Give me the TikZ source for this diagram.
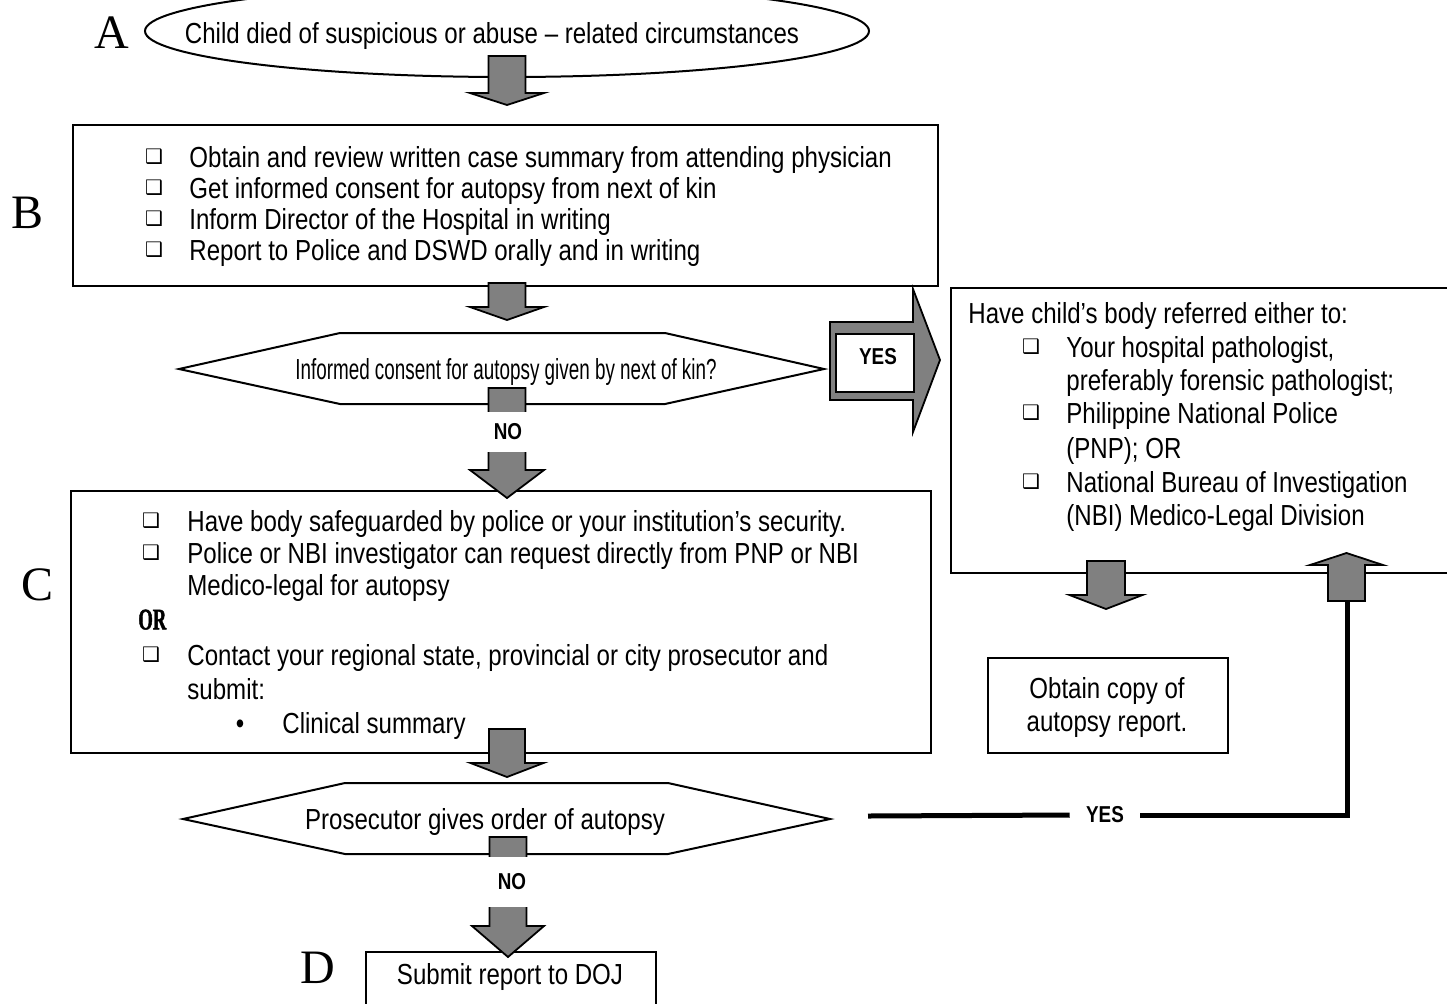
\documentclass[tikz,border=0pt]{standalone}
\usepackage{fontspec}
\setmainfont{Liberation Sans}
\newfontfamily\bodyfont{Liberation Sans}[FakeStretch=0.83]
\newfontfamily\tightfont{Liberation Sans}[FakeStretch=0.65]
\newfontfamily\labelfont{Liberation Sans}[FakeStretch=0.82]
\newfontfamily\letterfont{Liberation Serif}
\newfontfamily\orfont{Liberation Serif}[FakeStretch=0.62, FakeBold=1.5]
\newfontfamily\symfont{DejaVu Sans}
\usetikzlibrary{shapes.geometric,positioning}

% vertical block arrow: centre x, shaft start, head base, tip, half shaft, half head
\newcommand{\vblock}[6]{%
  \draw[blockarr] (#1-#5,#2) -- (#1+#5,#2) -- (#1+#5,#3) -- (#1+#6,#3) -- (#1,#4)
    -- (#1-#6,#3) -- (#1-#5,#3) -- cycle;}

\begin{document}
\begin{tikzpicture}[x=0.5pt, y=-0.5pt,
    box/.style={draw, line width=1pt, inner sep=0pt},
    blockarr/.style={draw, fill=gray, line width=0.9pt, line join=miter},
    txt/.style={anchor=west, inner sep=0pt, text height=10.4pt, text depth=0pt,
      font=\bodyfont\fontsize{14.5}{17}\selectfont},
    sq/.style={inner sep=0pt, font=\symfont\fontsize{10}{10}\selectfont},
    letter/.style={inner sep=0pt, font=\letterfont\fontsize{24}{24}\selectfont},
    yn/.style={inner sep=0pt, font=\labelfont\bfseries\fontsize{11.5}{13}\selectfont},
    heavy/.style={line width=2.5pt}]
    \useasboundingbox (0,0) rectangle (1447,1003);

    % A
    \node[letter] (la) at (112,33) {A};
    \node[draw, line width=1pt, ellipse, minimum width=362pt, minimum height=46pt, inner sep=0pt] (start) at (507,31) {};
    \node[txt, anchor=center] (starttxt) at (492,33) {Child died of suspicious or abuse – related circumstances};

    % B
    \node[letter] (lb) at (28,213) {B};
    \node[box, anchor=north west, minimum width=432.5pt, minimum height=80.5pt] (boxb) at (72,124) {};
    \foreach \yy/\itemtext [count=\i] in {157/{Obtain and review written case summary from attending physician},
        188/{Get informed consent for autopsy from next of kin},
        219/{Inform Director of the Hospital in writing},
        250/{Report to Police and DSWD orally and in writing}} {
      \node[sq] (bsq\i) at (154,\yy) {❑};
      \node[txt] (btx\i) at (189,\yy) {\itemtext};
    }

    % first question
    \draw[line width=1pt] (179,369) -- (340,333) -- (665,333) -- (824,369) -- (665,404) -- (340,404) -- cycle;
    \node[txt, anchor=center, font=\tightfont\fontsize{14.5}{17}\selectfont] (q1) at (506,369) {Informed consent for autopsy given by next of kin?};

    % referral box
    \node[box, anchor=north west, minimum width=260pt, minimum height=142.5pt] (refer) at (950,287) {};
    \node[txt] (rintro) at (968,313) {Have child’s body referred either to:};
    \node[sq] (rsq1) at (1031,347) {❑};
    \node[txt] (rtx1) at (1066,347) {Your hospital pathologist,};
    \node[txt] (rtx2) at (1066,380) {preferably forensic pathologist;};
    \node[sq] (rsq2) at (1031,413) {❑};
    \node[txt] (rtx3) at (1066,413) {Philippine National Police};
    \node[txt] (rtx4) at (1066,448) {(PNP); OR};
    \node[sq] (rsq3) at (1031,482) {❑};
    \node[txt] (rtx5) at (1066,482) {National Bureau of Investigation};
    \node[txt] (rtx6) at (1066,515) {(NBI) Medico-Legal Division};

    \node[box, anchor=north west, minimum width=120pt, minimum height=47.5pt] (copy) at (987,657) {};
    \node[txt, anchor=center] (copy1) at (1107,688) {Obtain copy of};
    \node[txt, anchor=center] (copy2) at (1107,721) {autopsy report.};

    % C
    \node[letter] (lc) at (38,585) {C};
    \node[box, anchor=north west, minimum width=430pt, minimum height=131pt] (boxc) at (70,490) {};
    \node[sq] (csq1) at (151,521) {❑};
    \node[txt] (ctx1) at (187,521) {Have body safeguarded by police or your institution’s security.};
    \node[sq] (csq2) at (151,553) {❑};
    \node[txt] (ctx2) at (187,553) {Police or NBI investigator can request directly from PNP or NBI};
    \node[txt] (ctx3) at (187,585) {Medico-legal for autopsy};
    \node[txt, font=\orfont\bfseries\fontsize{15}{17}\selectfont] (cor) at (138,619) {OR};
    \node[sq] (csq3) at (151,655) {❑};
    \node[txt] (ctx4) at (187,655) {Contact your regional state, provincial or city prosecutor and};
    \node[txt] (ctx5) at (187,689) {submit:};
    \node[txt, anchor=center] (cdot) at (240,723) {•};
    \node[txt] (ctx6) at (282,723) {Clinical summary};

    % second question
    \draw[line width=1pt] (183,819) -- (345,783) -- (668,783) -- (830,819) -- (668,854) -- (345,854) -- cycle;
    \node[txt, anchor=center] (q2) at (485,819) {Prosecutor gives order of autopsy};

    % D
    \node[letter] (ld) at (318,968) {D};
    \node[box, anchor=north west, minimum width=145pt, minimum height=40pt] (boxd) at (365,951) {};
    \node[txt, anchor=center] (dtx) at (510,974) {Submit report to DOJ};

    % block arrows
    \vblock{507}{56}{93}{105}{18.5}{37}
    \vblock{507}{283}{307}{320}{18.5}{37}
    \vblock{507}{388}{470}{498}{18.5}{37}
    \node[yn, fill=white, minimum width=30pt, minimum height=20pt] (no1) at (508,432) {NO};
    \vblock{507}{729}{763}{777}{18}{36.5}
    \vblock{508}{837}{926}{957}{18.5}{36}
    \node[yn, fill=white, minimum width=30pt, minimum height=25pt] (no2) at (512,882) {NO};

    % yes to the right
    \draw[blockarr] (830,322) -- (913,322) -- (913,289) -- (940,360) -- (913,432) -- (913,400) -- (830,400) -- cycle;
    \node[draw, line width=0.9pt, fill=white, anchor=north west, minimum width=39pt, minimum height=29pt, inner sep=0pt] (yesbox) at (835,333) {};
    \node[yn] (yes1) at (878,357) {YES};

    \vblock{1106}{561}{595}{609}{19}{36.5}
    \vblock{1346.5}{601}{565}{553}{18.5}{36.5}

    % prosecutor yes back up to referral
    \coordinate (yesstart) at (868,816);
    \coordinate (upfoot) at (1347,601);
    \node[yn, inner xsep=8pt] (yes2) at (1105,815) {YES};
    \draw[heavy] (yesstart) -- (yes2.west);
    \draw[heavy] (yes2.east) -- (upfoot |- yes2.east) -- (upfoot);
\end{tikzpicture}
\end{document}
